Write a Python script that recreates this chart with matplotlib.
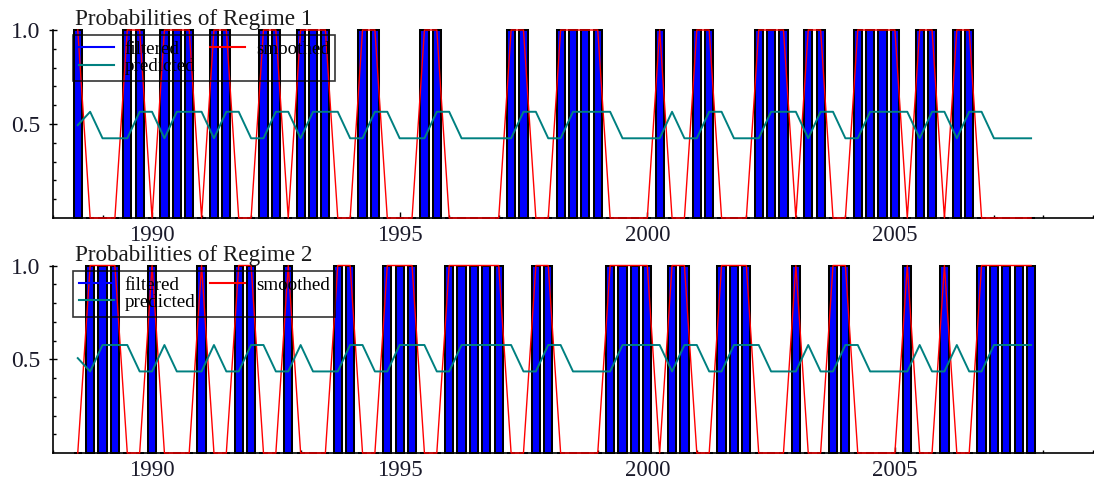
import matplotlib
matplotlib.use('Agg')
import matplotlib.pyplot as plt
from matplotlib.lines import Line2D
from matplotlib.ticker import FixedLocator

# ---------------- data (quarterly, 1988Q3 - 2007Q4) ----------------
first_year, first_quarter, n_obs = 1988, 3, 78
dates = [first_year + (first_quarter - 1 + i) / 4.0 for i in range(n_obs)]

filtered_1 = [1, 0, 0, 0, 1, 1, 0, 1, 1, 1,
              0, 1, 1, 0, 0, 1, 1, 0, 1, 1,
              1, 0, 0, 1, 1, 0, 0, 0, 1, 1,
              0, 0, 0, 0, 0, 1, 1, 0, 0, 1,
              1, 1, 1, 0, 0, 0, 0, 1, 0, 0,
              1, 1, 0, 0, 0, 1, 1, 1, 0, 1,
              1, 0, 0, 1, 1, 1, 1, 0, 1, 1,
              0, 1, 1, 0, 0, 0, 0, 0]
smoothed_1 = [1, 0, 0, 0, 1, 1, 0, 1, 1, 1,
              0, 1, 1, 0, 0, 1, 1, 0, 1, 1,
              1, 0, 0, 1, 1, 0, 0, 0, 1, 1,
              0, 0, 0, 0, 0, 1, 1, 0, 0, 1,
              1, 1, 1, 0, 0, 0, 0, 1, 0, 0,
              1, 1, 0, 0, 0, 1, 1, 1, 0, 1,
              1, 0, 0, 1, 1, 1, 1, 0, 1, 1,
              0, 1, 1, 0, 0, 0, 0, 0]
predicted_1 = [.494, .565, .424, .424, .424, .565, .565, .424, .565, .565,
               .565, .424, .565, .565, .424, .424, .565, .565, .424, .565,
               .565, .565, .424, .424, .565, .565, .424, .424, .424, .565,
               .565, .424, .424, .424, .424, .424, .565, .565, .424, .424,
               .565, .565, .565, .565, .424, .424, .424, .424, .565, .424,
               .424, .565, .565, .424, .424, .424, .565, .565, .565, .424,
               .565, .565, .424, .424, .565, .565, .565, .565, .424, .565,
               .565, .424, .565, .565, .424, .424, .424, .424]

filtered_2 = [0, 1, 1, 1, 0, 0, 1, 0, 0, 0,
              1, 0, 0, 1, 1, 0, 0, 1, 0, 0,
              0, 1, 1, 0, 0, 1, 1, 1, 0, 0,
              1, 1, 1, 1, 1, 0, 0, 1, 1, 0,
              0, 0, 0, 1, 1, 1, 1, 0, 1, 1,
              0, 0, 1, 1, 1, 0, 0, 0, 1, 0,
              0, 1, 1, 0, 0, 0, 0, 1, 0, 0,
              1, 0, 0, 1, 1, 1, 1, 1]
smoothed_2 = [0, 1, 1, 1, 0, 0, 1, 0, 0, 0,
              1, 0, 0, 1, 1, 0, 0, 1, 0, 0,
              0, 1, 1, 0, 0, 1, 1, 1, 0, 0,
              1, 1, 1, 1, 1, 0, 0, 1, 1, 0,
              0, 0, 0, 1, 1, 1, 1, 0, 1, 1,
              0, 0, 1, 1, 1, 0, 0, 0, 1, 0,
              0, 1, 1, 0, 0, 0, 0, 1, 0, 0,
              1, 0, 0, 1, 1, 1, 1, 1]
predicted_2 = [.506, .435, .576, .576, .576, .435, .435, .576, .435, .435,
               .435, .576, .435, .435, .576, .576, .435, .435, .576, .435,
               .435, .435, .576, .576, .435, .435, .576, .576, .576, .435,
               .435, .576, .576, .576, .576, .576, .435, .435, .576, .576,
               .435, .435, .435, .435, .576, .576, .576, .576, .435, .576,
               .576, .435, .435, .576, .576, .576, .435, .435, .435, .576,
               .435, .435, .576, .576, .435, .435, .435, .435, .576, .435,
               .435, .576, .435, .435, .576, .576, .576, .576]

titles = ["Probabilities of Regime 1", "Probabilities of Regime 2"]
series_labels = ["filtered", "predicted", "smoothed"]
x_tick_labels = [1990, 1995, 2000, 2005]
x_minor_ticks = list(range(1988, 2010))
y_tick_labels = [0.5, 1.0]

# ---------------- styling ----------------
SERIF = ['Liberation Serif', 'DejaVu Serif']
BLUE, RED, TEAL = '#0000FF', '#FF0000', '#008080'
FIG_W, FIG_H = 1094, 484

fig = plt.figure(figsize=(FIG_W / 100, FIG_H / 100), dpi=100)
fig.patch.set_facecolor('white')

left_px, right_px = 53, 1093
panels_px = [(30, 218), (265.5, 453)]   # (y of 1.0, y of 0) in pixels from top

data = [(filtered_1, smoothed_1, predicted_1), (filtered_2, smoothed_2, predicted_2)]

for k, ((top_px, bot_px), (filt, smooth, pred)) in enumerate(zip(panels_px, data)):
    ax = fig.add_axes([left_px / FIG_W, (FIG_H - bot_px) / FIG_H,
                       (right_px - left_px) / FIG_W, (bot_px - top_px) / FIG_H])
    ax.set_xlim(1988, 2009)
    ax.set_ylim(0, 1)

    ax.bar(dates, filt, width=0.165, color=BLUE, edgecolor='black',
           linewidth=1.45, zorder=2, clip_on=False)
    ax.plot(dates, smooth, color=RED, lw=1.0, zorder=3, clip_on=False)
    ax.plot(dates, pred, color=TEAL, lw=1.4, zorder=4, clip_on=False)

    for side in ('top', 'right'):
        ax.spines[side].set_visible(False)
    for side in ('left', 'bottom'):
        ax.spines[side].set_linewidth(1.2)
        ax.spines[side].set_color('black')

    ax.xaxis.set_major_locator(FixedLocator(x_tick_labels))
    ax.set_xticklabels([str(v) for v in x_tick_labels], family=SERIF, fontsize=16.5,
                       color='#1a1a2a')
    ax.xaxis.set_minor_locator(FixedLocator(x_minor_ticks))
    ax.tick_params(axis='x', which='major', direction='in', length=4.5, width=1.0, pad=5)
    ax.tick_params(axis='x', which='minor', direction='in', length=2.5, width=1.0)

    ax.yaxis.set_major_locator(FixedLocator(y_tick_labels))
    ax.set_yticklabels(['%.1f' % v for v in y_tick_labels], family=SERIF, fontsize=17,
                       color='#1a1a2a')
    ax.yaxis.set_minor_locator(FixedLocator([i / 10 for i in range(1, 10) if i != 5]))
    ax.tick_params(axis='y', which='major', direction='inout', length=6, width=1.0, pad=6)
    ax.tick_params(axis='y', which='minor', direction='in', length=2.5, width=1.0)

    h = bot_px - top_px
    w = right_px - left_px
    ax.text(22 / w, 1 + 4.5 / h, titles[k], transform=ax.transAxes, ha='left',
            va='baseline', fontsize=16.7, family=SERIF, color='#1a1a1a')

    handles = [Line2D([], [], color=BLUE, lw=1.5),
               Line2D([], [], color=TEAL, lw=1.5),
               Line2D([], [], color=RED, lw=1.5)]
    leg = ax.legend(handles, series_labels, ncol=2, loc='upper left',
                    bbox_to_anchor=(20 / w, 1 - 5 / h), borderaxespad=0,
                    prop={'family': SERIF, 'size': 13.7},
                    handlelength=1.85, handletextpad=0.55, columnspacing=0.8,
                    labelspacing=0.0, borderpad=0.3, frameon=True, fancybox=False)
    leg.get_frame().set_edgecolor('black')
    leg.get_frame().set_facecolor('none')
    leg.get_frame().set_linewidth(1.2)
    leg.set_zorder(5)

fig.savefig('out.png', dpi=100, facecolor='white')
